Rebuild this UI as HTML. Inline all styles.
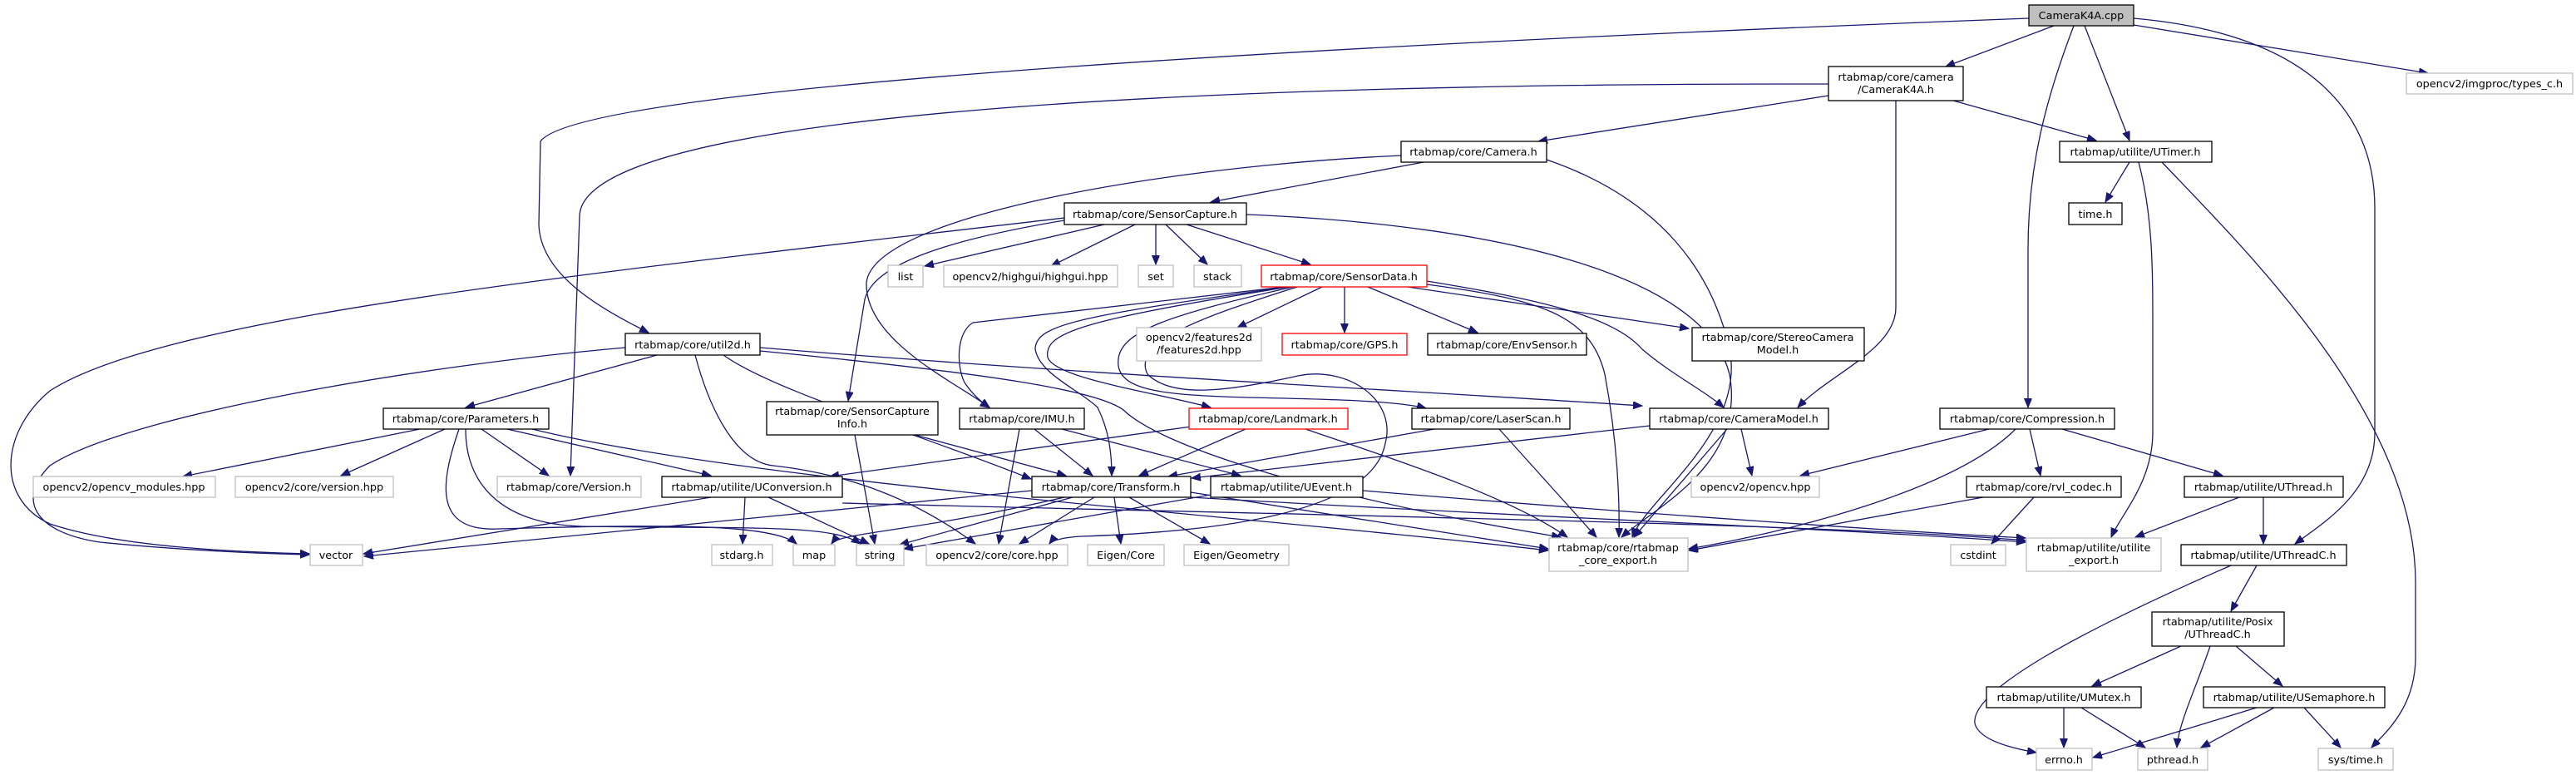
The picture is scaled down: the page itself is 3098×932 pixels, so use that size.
<!DOCTYPE html>
<html><head><meta charset="utf-8"><style>
html,body{margin:0;padding:0;background:#fff}
svg{display:block}
text{font-family:"DejaVu Sans","Liberation Sans",sans-serif;font-size:12.8px;fill:#000}
.e{fill:none;stroke:#191970;stroke-width:1.3}
.n{fill:#fff;stroke:#000;stroke-width:1.3}
.g{fill:#fff;stroke:#bfbfbf;stroke-width:1.3}
.r{fill:#fff;stroke:#ff0000;stroke-width:1.3}
</style></head><body>
<svg width="3098" height="932" viewBox="0 0 3098 932" xmlns="http://www.w3.org/2000/svg">
<defs><marker id="a" markerUnits="userSpaceOnUse" markerWidth="12" markerHeight="10" refX="11" refY="4.5" orient="auto"><path d="M0,0 L11,4.5 L0,9 z" fill="#191970" stroke="#191970"/></marker></defs>
<g class="e" marker-end="url(#a)">
<path d="M2440,22 C1700,50 700,100 650,170 L648,270 C650,330 720,370 780,400"/>
<path d="M2470,31 L2340,80"/>
<path d="M2494,31 C2460,120 2439,200 2439,300 L2439,490"/>
<path d="M2507,31 L2561,169"/>
<path d="M2566,30 L2920,88"/>
<path d="M2566,22 C2770,40 2856,130 2856,250 L2856,520 C2856,590 2800,625 2760,654"/>
<path d="M2199,115 L1850,170"/>
<path d="M2349,121 L2521,169"/>
<path d="M2280,121 L2280,370 C2280,420 2200,450 2162,490"/>
<path d="M2199,101 C1500,100 700,130 697,260 L686,572"/>
<path d="M2561,195 L2532,243"/>
<path d="M2572,195 C2589,260 2589,320 2589,400 L2589,520 C2589,580 2550,620 2539,646"/>
<path d="M2600,195 C2700,300 2905,500 2905,700 L2905,790 C2905,850 2870,880 2852,899"/>
<path d="M1712,195 L1456,243"/>
<path d="M1685,187 C1400,200 1050,260 1042,340 C1040,410 1150,460 1190,490"/>
<path d="M1860,192 C2000,240 2060,330 2080,420 C2100,520 1980,600 1963,646"/>
<path d="M1328,270 L1112,320"/>
<path d="M1365,270 L1264,320"/>
<path d="M1390,270 L1390,318"/>
<path d="M1402,270 L1452,318"/>
<path d="M1427,270 L1576,318"/>
<path d="M1280,265 C1130,290 1050,320 1040,360 L1020,482"/>
<path d="M1280,262 C700,330 200,380 60,470 C0,520 -5,600 60,630 C150,660 300,664 372,666"/>
<path d="M752,418 C500,440 150,500 60,560 C20,600 40,640 120,652 C220,662 320,666 372,667"/>
<path d="M1499,258 C1800,270 2050,330 2080,450 C2100,560 1990,610 1950,646"/>
<path d="M1590,345 L1488,394"/>
<path d="M1617,345 L1617,400"/>
<path d="M1645,345 L1777,400"/>
<path d="M1693,345 L2031,395"/>
<path d="M1545,345 L1170,388 C1150,400 1150,440 1160,460 C1170,475 1182,485 1190,490"/>
<path d="M1548,345 C1300,380 1245,390 1245,420 C1250,450 1300,470 1320,490 C1335,520 1337,550 1337,572"/>
<path d="M1550,345 C1300,385 1255,400 1260,430 C1270,455 1380,470 1456,490"/>
<path d="M1555,345 C1400,380 1340,400 1345,440 C1350,470 1400,475 1500,478 C1600,480 1680,482 1715,491"/>
<path d="M1560,345 C1450,380 1360,410 1380,450 C1410,480 1480,470 1561,452 C1620,440 1680,480 1666,533 C1650,620 1450,640 1300,645 C1280,646 1265,650 1262,654"/>
<path d="M1716,338 C1850,360 1940,380 1975,420 C2010,450 2050,470 2073,490"/>
<path d="M1716,342 C1850,360 1912,377 1930,450 C1945,530 1948,600 1947,646"/>
<path d="M790,427 L560,490"/>
<path d="M870,427 C930,470 1100,520 1240,576"/>
<path d="M914,418 C1300,450 1700,470 1975,488"/>
<path d="M914,422 C1200,450 1320,470 1351,493 C1400,540 1600,600 1877,646"/>
<path d="M836,427 C850,480 880,555 930,560 C1020,570 1100,600 1173,654"/>
<path d="M505,516 L220,573"/>
<path d="M535,516 L410,572"/>
<path d="M579,516 L660,572"/>
<path d="M610,516 L855,572"/>
<path d="M552,516 C530,580 520,640 600,636 C800,630 930,630 958,654"/>
<path d="M560,516 C560,580 600,630 700,633 C900,636 1000,630 1035,654"/>
<path d="M640,516 C900,580 1500,620 1862,662"/>
<path d="M1100,523 L1282,572"/>
<path d="M1028,523 L1052,654"/>
<path d="M1244,516 L1314,572"/>
<path d="M1226,516 L1201,654"/>
<path d="M1277,516 L1492,572"/>
<path d="M1498,516 L1370,572"/>
<path d="M1440,512 L998,573"/>
<path d="M1570,516 C1700,560 1820,600 1885,646"/>
<path d="M1725,516 L1405,573"/>
<path d="M1803,516 L1920,646"/>
<path d="M1984,512 L1433,575"/>
<path d="M2094,516 L2107,572"/>
<path d="M2077,516 L1965,646"/>
<path d="M2392,516 L2165,572"/>
<path d="M2424,516 C2350,590 2150,640 2031,660"/>
<path d="M2441,516 L2454,572"/>
<path d="M2480,516 L2673,572"/>
<path d="M2385,598 L2031,662"/>
<path d="M2446,598 L2395,654"/>
<path d="M2693,598 L2568,646"/>
<path d="M2722,598 L2722,654"/>
<path d="M2714,680 L2683,735"/>
<path d="M2683,680 C2500,760 2370,830 2375,870 C2380,890 2420,900 2449,905"/>
<path d="M2623,777 L2516,825"/>
<path d="M2658,777 C2640,830 2620,870 2618,899"/>
<path d="M2689,777 L2745,825"/>
<path d="M2482,851 L2482,899"/>
<path d="M2503,851 L2580,899"/>
<path d="M2714,851 L2517,911"/>
<path d="M2735,851 L2647,899"/>
<path d="M2771,851 L2815,899"/>
<path d="M855,598 L437,666"/>
<path d="M896,598 L893,654"/>
<path d="M924,598 L1045,654"/>
<path d="M1013,605 C1600,620 2200,630 2436,650"/>
<path d="M1241,590 L438,669"/>
<path d="M1280,598 C1100,640 1010,640 1000,654"/>
<path d="M1290,598 L1082,655"/>
<path d="M1316,598 L1226,654"/>
<path d="M1340,598 L1348,654"/>
<path d="M1358,598 L1455,654"/>
<path d="M1432,592 L1862,660"/>
<path d="M1432,598 C1800,620 2200,635 2436,652"/>
<path d="M1456,595 L1087,660"/>
<path d="M1639,590 C2000,620 2300,640 2436,647"/>
</g>
<g>
<rect x="2440" y="6" width="126" height="25" fill="#bfbfbf" stroke="#000" stroke-width="1.3"/>
<rect class="n" x="2199" y="80" width="162" height="41"/>
<rect class="g" x="2894" y="88" width="200" height="25"/>
<rect class="n" x="2477" y="170" width="183" height="25"/>
<rect class="n" x="2488" y="244" width="64" height="26"/>
<rect class="n" x="1685" y="170" width="175" height="25"/>
<rect class="n" x="1280" y="244" width="219" height="26"/>
<rect class="g" x="1068" y="319" width="42" height="26"/>
<rect class="g" x="1135" y="319" width="209" height="26"/>
<rect class="g" x="1369" y="319" width="42" height="26"/>
<rect class="g" x="1436" y="319" width="57" height="26"/>
<rect class="r" x="1517" y="319" width="199" height="26"/>
<rect class="g" x="1367" y="394" width="150" height="40"/>
<rect class="r" x="1542" y="401" width="150" height="26"/>
<rect class="n" x="1717" y="401" width="191" height="26"/>
<rect class="n" x="2035" y="394" width="207" height="40"/>
<rect class="n" x="752" y="401" width="162" height="26"/>
<rect class="n" x="461" y="491" width="199" height="25"/>
<rect class="n" x="922" y="483" width="206" height="40"/>
<rect class="n" x="1154" y="491" width="150" height="25"/>
<rect class="r" x="1430" y="491" width="191" height="25"/>
<rect class="n" x="1698" y="491" width="190" height="25"/>
<rect class="n" x="1984" y="491" width="215" height="25"/>
<rect class="n" x="2333" y="491" width="210" height="25"/>
<rect class="g" x="40" y="573" width="219" height="25"/>
<rect class="g" x="283" y="573" width="190" height="25"/>
<rect class="g" x="598" y="573" width="173" height="25"/>
<rect class="n" x="796" y="573" width="217" height="25"/>
<rect class="n" x="1241" y="573" width="191" height="25"/>
<rect class="n" x="1456" y="573" width="183" height="25"/>
<rect class="g" x="2034" y="573" width="154" height="25"/>
<rect class="n" x="2365" y="573" width="186" height="25"/>
<rect class="n" x="2627" y="573" width="191" height="25"/>
<rect class="g" x="373" y="655" width="63" height="25"/>
<rect class="g" x="856" y="655" width="73" height="25"/>
<rect class="g" x="954" y="655" width="50" height="25"/>
<rect class="g" x="1030" y="655" width="57" height="25"/>
<rect class="g" x="1114" y="655" width="170" height="25"/>
<rect class="g" x="1308" y="655" width="92" height="25"/>
<rect class="g" x="1424" y="655" width="126" height="25"/>
<rect class="g" x="1863" y="647" width="167" height="40"/>
<rect class="g" x="2346" y="655" width="66" height="25"/>
<rect class="g" x="2437" y="647" width="162" height="40"/>
<rect class="n" x="2623" y="655" width="199" height="25"/>
<rect class="n" x="2588" y="736" width="159" height="41"/>
<rect class="n" x="2389" y="826" width="186" height="25"/>
<rect class="n" x="2650" y="826" width="218" height="25"/>
<rect class="g" x="2449" y="900" width="67" height="26"/>
<rect class="g" x="2571" y="900" width="84" height="26"/>
<rect class="g" x="2788" y="900" width="90" height="26"/>
</g>
<g text-anchor="middle">
<text x="2503" y="23">CameraK4A.cpp</text>
<text x="2280" y="97">rtabmap/core/camera</text><text x="2280" y="112">/CameraK4A.h</text>
<text x="2994" y="105">opencv2/imgproc/types_c.h</text>
<text x="2568" y="187">rtabmap/utilite/UTimer.h</text>
<text x="2520" y="262">time.h</text>
<text x="1772" y="187">rtabmap/core/Camera.h</text>
<text x="1389" y="262">rtabmap/core/SensorCapture.h</text>
<text x="1089" y="337">list</text>
<text x="1239" y="337">opencv2/highgui/highgui.hpp</text>
<text x="1390" y="337">set</text>
<text x="1464" y="337">stack</text>
<text x="1616" y="337">rtabmap/core/SensorData.h</text>
<text x="1442" y="410">opencv2/features2d</text><text x="1442" y="425">/features2d.hpp</text>
<text x="1617" y="419">rtabmap/core/GPS.h</text>
<text x="1812" y="419">rtabmap/core/EnvSensor.h</text>
<text x="2138" y="410">rtabmap/core/StereoCamera</text><text x="2138" y="425">Model.h</text>
<text x="833" y="419">rtabmap/core/util2d.h</text>
<text x="560" y="508">rtabmap/core/Parameters.h</text>
<text x="1025" y="499">rtabmap/core/SensorCapture</text><text x="1025" y="514">Info.h</text>
<text x="1229" y="508">rtabmap/core/IMU.h</text>
<text x="1525" y="508">rtabmap/core/Landmark.h</text>
<text x="1793" y="508">rtabmap/core/LaserScan.h</text>
<text x="2091" y="508">rtabmap/core/CameraModel.h</text>
<text x="2438" y="508">rtabmap/core/Compression.h</text>
<text x="149" y="590">opencv2/opencv_modules.hpp</text>
<text x="378" y="590">opencv2/core/version.hpp</text>
<text x="684" y="590">rtabmap/core/Version.h</text>
<text x="904" y="590">rtabmap/utilite/UConversion.h</text>
<text x="1336" y="590">rtabmap/core/Transform.h</text>
<text x="1547" y="590">rtabmap/utilite/UEvent.h</text>
<text x="2111" y="590">opencv2/opencv.hpp</text>
<text x="2458" y="590">rtabmap/core/rvl_codec.h</text>
<text x="2722" y="590">rtabmap/utilite/UThread.h</text>
<text x="404" y="672">vector</text>
<text x="892" y="672">stdarg.h</text>
<text x="979" y="672">map</text>
<text x="1058" y="672">string</text>
<text x="1199" y="672">opencv2/core/core.hpp</text>
<text x="1354" y="672">Eigen/Core</text>
<text x="1487" y="672">Eigen/Geometry</text>
<text x="1946" y="663">rtabmap/core/rtabmap</text><text x="1946" y="678">_core_export.h</text>
<text x="2379" y="672">cstdint</text>
<text x="2518" y="663">rtabmap/utilite/utilite</text><text x="2518" y="678">_export.h</text>
<text x="2722" y="672">rtabmap/utilite/UThreadC.h</text>
<text x="2667" y="752">rtabmap/utilite/Posix</text><text x="2667" y="767">/UThreadC.h</text>
<text x="2482" y="843">rtabmap/utilite/UMutex.h</text>
<text x="2759" y="843">rtabmap/utilite/USemaphore.h</text>
<text x="2482" y="918">errno.h</text>
<text x="2613" y="918">pthread.h</text>
<text x="2833" y="918">sys/time.h</text>
</g>
</svg>
</body></html>
